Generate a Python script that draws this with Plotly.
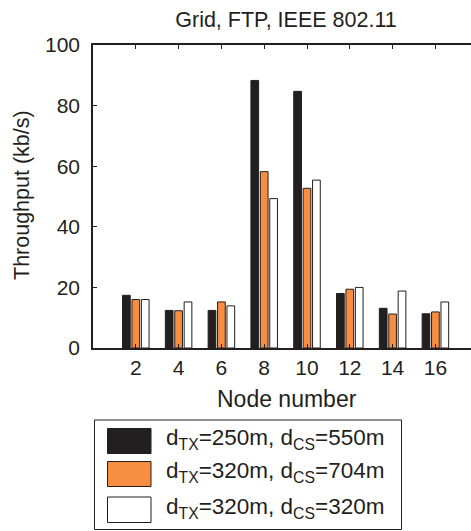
import plotly.graph_objects as go

nodes = [2, 4, 6, 8, 10, 12, 14, 16]
tp_250_550 = [17.4, 12.4, 12.4, 88.3, 84.7, 18.0, 13.1, 11.3]
tp_320_704 = [16.0, 12.3, 15.2, 58.2, 52.7, 19.4, 11.2, 11.9]
tp_320_320 = [16.0, 15.2, 13.9, 49.3, 55.4, 20.0, 18.8, 15.2]
series_names = ["d<sub>TX</sub>=250m, d<sub>CS</sub>=550m",
                "d<sub>TX</sub>=320m, d<sub>CS</sub>=704m",
                "d<sub>TX</sub>=320m, d<sub>CS</sub>=320m"]
tick_labels = ["2", "4", "6", "8", "10", "12", "14", "16"]

W, H = 471, 531
L, R, T, B = 93, 0, 45, 183
PW, PH = W - L - R, H - T - B
FONT = "Liberation Sans, Arial, Helvetica, sans-serif"
DARK = "#231f20"
fills = [DARK, "#f68d40", "#ffffff"]
bw = 0.36
offsets = [-0.44 - bw / 2, -bw / 2, 0.44 - bw / 2]

def px(x):
    return (x - L) / PW

def py(y):
    return (H - B - y) / PH

fig = go.Figure()
for vals, name, col, off in zip([tp_250_550, tp_320_704, tp_320_320], series_names, fills, offsets):
    fig.add_trace(go.Bar(x=nodes, y=vals, name=name, width=bw, offset=off,
                         marker=dict(color=col, line=dict(color=DARK, width=1)),
                         showlegend=False))

fig.update_layout(
    width=W, height=H, margin=dict(l=L, r=R, t=T, b=B),
    paper_bgcolor="white", plot_bgcolor="white",
    barmode="overlay",
    font=dict(family=FONT, size=21, color=DARK),
    title=dict(text="Grid, FTP, IEEE 802.11", x=px(286), xref="paper", xanchor="center",
               y=1 - 19 / H, yref="container", yanchor="middle",
               font=dict(size=21.5, family=FONT, color=DARK)),
    xaxis=dict(range=[0, (W - L) / 21.4], tickvals=nodes, ticktext=tick_labels,
               ticks="inside", ticklen=4, tickcolor=DARK, showline=True, linecolor=DARK,
               linewidth=1.5, mirror="ticks", showgrid=False, zeroline=False,
               tickfont=dict(size=21, family=FONT, color=DARK)),
    yaxis=dict(range=[0, 100], tickvals=[0, 20, 40, 60, 80, 100],
               ticks="inside", ticklen=4, tickcolor=DARK, showline=True, linecolor=DARK,
               linewidth=1.5, mirror=False, showgrid=False, zeroline=False,
               ticklabelstandoff=7,
               tickfont=dict(size=21, family=FONT, color=DARK)),
)

# axis labels
fig.add_annotation(text="Throughput (kb/s)", xref="paper", yref="paper", x=px(22), y=py(195),
                   textangle=-90, showarrow=False, xanchor="center", yanchor="middle",
                   font=dict(size=21.5, family=FONT, color=DARK))
fig.add_annotation(text="Node number", xref="paper", yref="paper", x=px(287), y=py(399),
                   showarrow=False, xanchor="center", yanchor="middle",
                   font=dict(size=23, family=FONT, color=DARK))

# legend box
fig.add_shape(type="rect", xref="paper", yref="paper", x0=px(94.5), x1=px(401.5),
              y0=py(420), y1=py(529.5), line=dict(color=DARK, width=1), fillcolor="white")
rows = [(428.5, 453.5), (461.5, 486.5), (497, 522.5)]
for (y0, y1), name, col in zip(rows, series_names, fills):
    fig.add_shape(type="rect", xref="paper", yref="paper", x0=px(107.5), x1=px(151),
                  y0=py(y0), y1=py(y1), line=dict(color=DARK, width=1), fillcolor=col)
    fig.add_annotation(text=name, xref="paper", yref="paper", x=px(164), y=py((y0 + y1) / 2 - 2),
                       showarrow=False, xanchor="left", yanchor="middle",
                       font=dict(size=22.5, family=FONT, color=DARK))

fig.write_html("out.html")
